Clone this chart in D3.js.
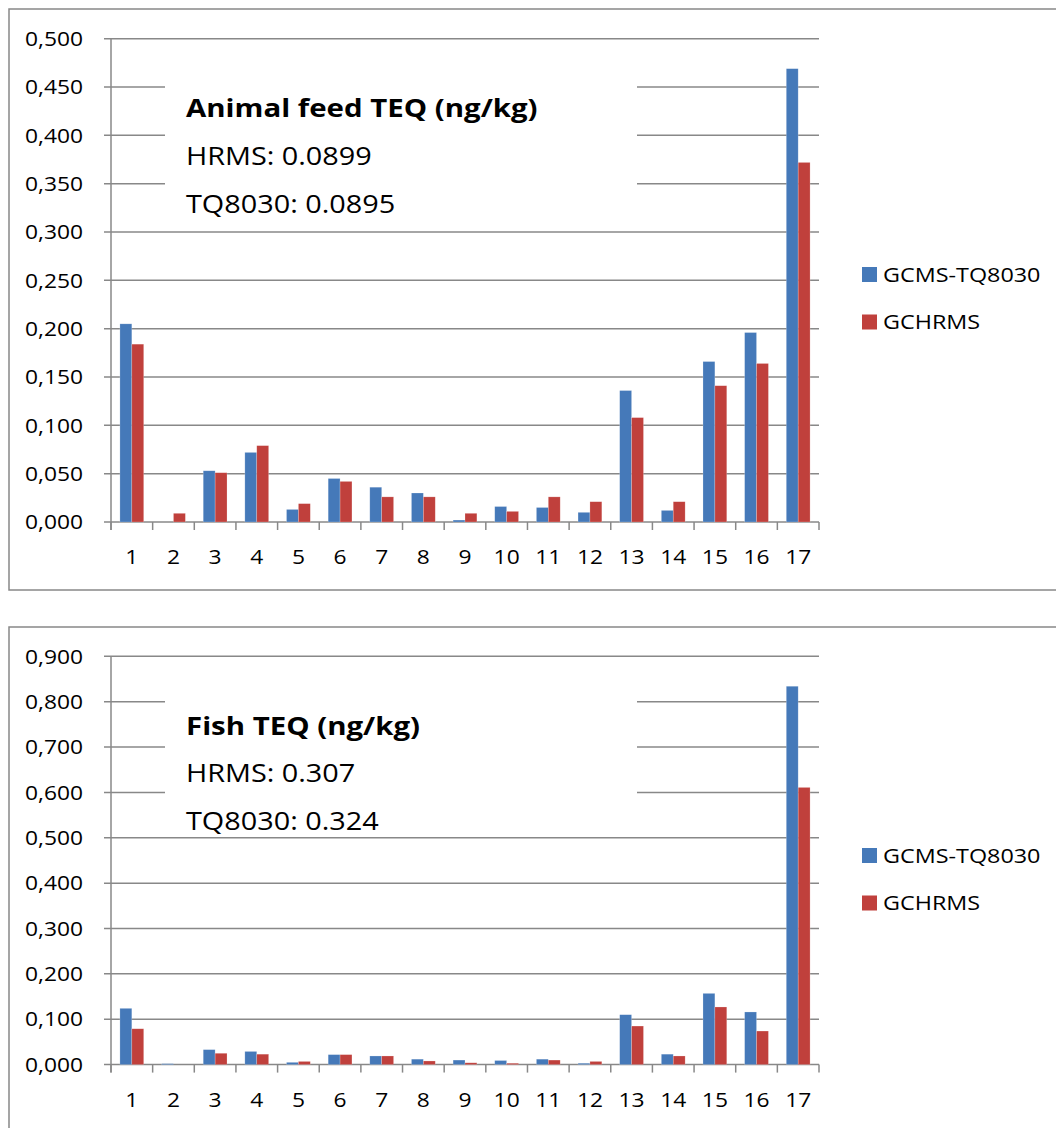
<!DOCTYPE html>
<html lang="en">
<head>
    <meta charset="UTF-8">
    <script src="https://d3js.org/d3.v7.min.js"></script>
    <style>
        body {
            margin: 0;
            background: #fff;
            font-family: "Open Sans", sans-serif;
        }
        .grid {
            stroke: #888;
            stroke-width: 1.5px;
        }
        .tick-label {
            font-size: 20px;
            fill: #000;
        }
        .legend-label {
            font-size: 20.5px;
            fill: #000;
        }
        .note {
            font-size: 25.3px;
            fill: #000;
        }
        .note-title {
            font-size: 25.8px;
            font-weight: bold;
            fill: #000;
        }
    </style>
</head>
<body>
    <div id="chart"></div>

    <script>
        // categories and values
        const categories = ["1", "2", "3", "4", "5", "6", "7", "8", "9", "10", "11", "12", "13", "14", "15", "16", "17"];
        const seriesNames = ["GCMS-TQ8030", "GCHRMS"];
        const seriesColors = ["#4579b9", "#c0403c"];

        const feedTQ8030 = [0.205, 0.000, 0.053, 0.072, 0.013, 0.045, 0.036, 0.030, 0.002, 0.016, 0.015, 0.010, 0.136, 0.012, 0.166, 0.196, 0.469];
        const feedHRMS   = [0.184, 0.009, 0.051, 0.079, 0.019, 0.042, 0.026, 0.026, 0.009, 0.011, 0.026, 0.021, 0.108, 0.021, 0.141, 0.164, 0.372];
        const fishTQ8030 = [0.124, 0.002, 0.033, 0.029, 0.005, 0.022, 0.019, 0.012, 0.010, 0.009, 0.012, 0.003, 0.110, 0.023, 0.157, 0.116, 0.834];
        const fishHRMS   = [0.079, 0.000, 0.025, 0.023, 0.007, 0.022, 0.019, 0.008, 0.004, 0.003, 0.010, 0.007, 0.085, 0.019, 0.127, 0.074, 0.611];

        const feedTicks = [0, 0.05, 0.1, 0.15, 0.2, 0.25, 0.3, 0.35, 0.4, 0.45, 0.5];
        const fishTicks = [0, 0.1, 0.2, 0.3, 0.4, 0.5, 0.6, 0.7, 0.8, 0.9];

        const feedNote = ["Animal feed TEQ (ng/kg)", "HRMS: 0.0899", "TQ8030: 0.0895"];
        const fishNote = ["Fish TEQ (ng/kg)", "HRMS: 0.307", "TQ8030: 0.324"];

        // the original picture is a bit wider than the font, so text gets stretched
        const SX = 1.14;
        const fmt = d3.formatLocale({decimal: ",", thousands: ".", grouping: [3], currency: ["", ""]}).format(".3f");

        const svg = d3.select("#chart")
            .append("svg")
            .attr("width", 1056)
            .attr("height", 1128);

        function stretched(g, x, y, txt, cls) {
            return g.append("text")
                .attr("class", cls)
                .attr("transform", `translate(${x},${y}) scale(${SX},1)`)
                .text(txt);
        }

        function drawChart(top, frameH, yMax, ticks, yTop, yZero, seriesA, seriesB, note, legendY) {
            const g = svg.append("g");

            // outer frame
            g.append("rect")
                .attr("x", 9).attr("y", top)
                .attr("width", 1100).attr("height", frameH)
                .attr("fill", "none")
                .attr("stroke", "#888")
                .attr("stroke-width", 1.5);

            const x = d3.scaleBand().domain(categories).range([111, 819]);
            const y = d3.scaleLinear().domain([0, yMax]).range([yZero, yTop]);

            // gridlines + y ticks
            g.selectAll(".grid")
                .data(ticks)
                .enter()
                .append("line")
                .attr("class", "grid")
                .attr("x1", 104).attr("x2", 819)
                .attr("y1", d => y(d)).attr("y2", d => y(d));

            g.append("line").attr("class", "grid")
                .attr("x1", 111).attr("x2", 111)
                .attr("y1", y(yMax)).attr("y2", yZero + 8);

            // x ticks between categories
            const bounds = categories.map(c => x(c)).concat([x.range()[1]]);
            g.selectAll(".xtick")
                .data(bounds)
                .enter()
                .append("line")
                .attr("class", "grid")
                .attr("x1", d => d).attr("x2", d => d)
                .attr("y1", yZero).attr("y2", yZero + 8);

            ticks.forEach(t => {
                stretched(g, 83, y(t), fmt(t), "tick-label")
                    .attr("text-anchor", "end")
                    .attr("dy", "0.36em");
            });

            categories.forEach(c => {
                stretched(g, x(c) + x.bandwidth() / 2, yZero + 35, c, "tick-label")
                    .attr("text-anchor", "middle")
                    .attr("dy", "0.36em");
            });

            // white box behind the note
            const noteY = y(yMax) + 69;
            g.append("rect")
                .attr("x", 165).attr("y", noteY - 30)
                .attr("width", 472).attr("height", 140)
                .attr("fill", "#fff");

            note.forEach((t, i) => {
                stretched(g, 186, noteY + i * 48, t, i === 0 ? "note-title" : "note")
                    .attr("dy", "0.36em");
            });

            // bars, excel gap width 150%
            const bw = x.step() / 3.5;
            const rows = categories.map((c, i) => ({c, vals: [seriesA[i], seriesB[i]]}));
            rows.forEach(r => {
                r.vals.forEach((v, k) => {
                    g.append("rect")
                        .attr("x", x(r.c) + 0.75 * bw + k * bw)
                        .attr("y", y(v))
                        .attr("width", bw)
                        .attr("height", yZero - y(v))
                        .attr("fill", seriesColors[k])
                        .attr("stroke", "rgba(255,255,255,0.35)")
                        .attr("stroke-width", 0.6);
                });
            });

            // legend
            seriesNames.forEach((name, k) => {
                const ly = legendY + k * 47.5;
                g.append("rect")
                    .attr("x", 862).attr("y", ly - 7.5)
                    .attr("width", 15).attr("height", 15)
                    .attr("fill", seriesColors[k]);
                stretched(g, 883, ly, name, "legend-label").attr("dy", "0.36em");
            });
        }

        drawChart(9, 581, 0.5, feedTicks, 38.7, 522, feedTQ8030, feedHRMS, feedNote, 274.5);
        drawChart(627, 600, 0.9, fishTicks, 656.3, 1064.6, fishTQ8030, fishHRMS, fishNote, 855.5);
    </script>
</body>
</html>
